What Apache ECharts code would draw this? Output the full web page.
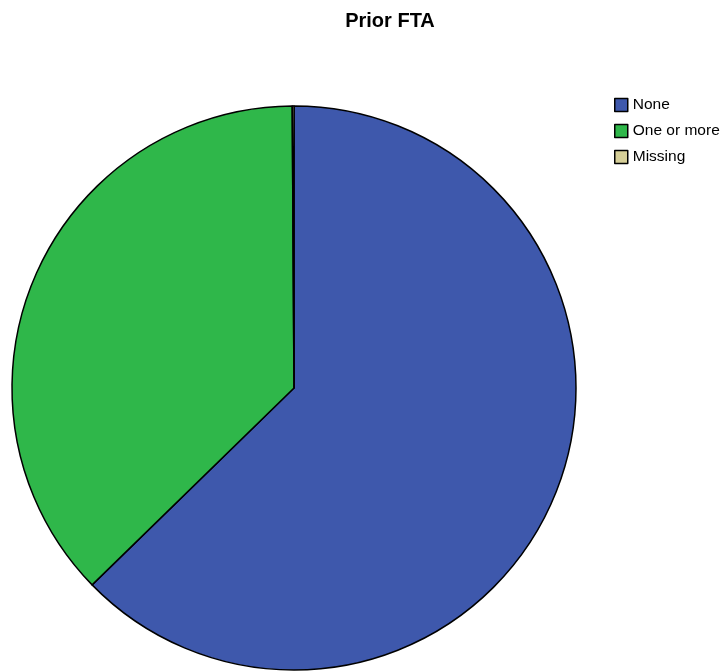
<!DOCTYPE html>
<html>
<head>
<meta charset="utf-8">
<script src="https://cdn.jsdelivr.net/npm/echarts@6/dist/echarts.min.js"></script>
<style>html,body{margin:0;padding:0;background:#fff;}#c{width:727px;height:671px;}</style>
</head>
<body>
<div id="c"></div>
<script>
const categories = ['None', 'One or more', 'Missing'];
const values = [62.7, 37.2, 0.1];
const colors = ['#3E58AC', '#2FB74A', '#D6CF98'];

const chart = echarts.init(document.getElementById('c'), null, {renderer: 'canvas'});
chart.setOption({
  animation: false,
  title: {
    text: 'Prior FTA', left: 385, top: 6, textAlign: 'center',
    textStyle: {fontFamily: 'Liberation Sans, Arial', fontSize: 20, fontWeight: 'bold', color: '#000'}
  },
  legend: {
    orient: 'vertical', left: 609, top: 92,
    icon: 'rect', itemWidth: 13, itemHeight: 13, itemGap: 10,
    data: categories,
    textStyle: {fontFamily: 'Liberation Sans, Arial', fontSize: 15.5, color: '#000', lineHeight: 16, padding: [0,0,0,0]},
    itemStyle: {borderColor: '#000', borderWidth: 1.5}
  },
  series: [{
    type: 'pie',
    center: [294, 388], radius: 282,
    startAngle: 90, clockwise: true,
    label: {show: false}, labelLine: {show: false},
    emphasis: {disabled: true},
    itemStyle: {borderColor: '#000', borderWidth: 1.5},
    data: categories.map((c, i) => ({name: c, value: values[i], itemStyle: {color: colors[i]}}))
  }]
});
</script>
</body>
</html>
